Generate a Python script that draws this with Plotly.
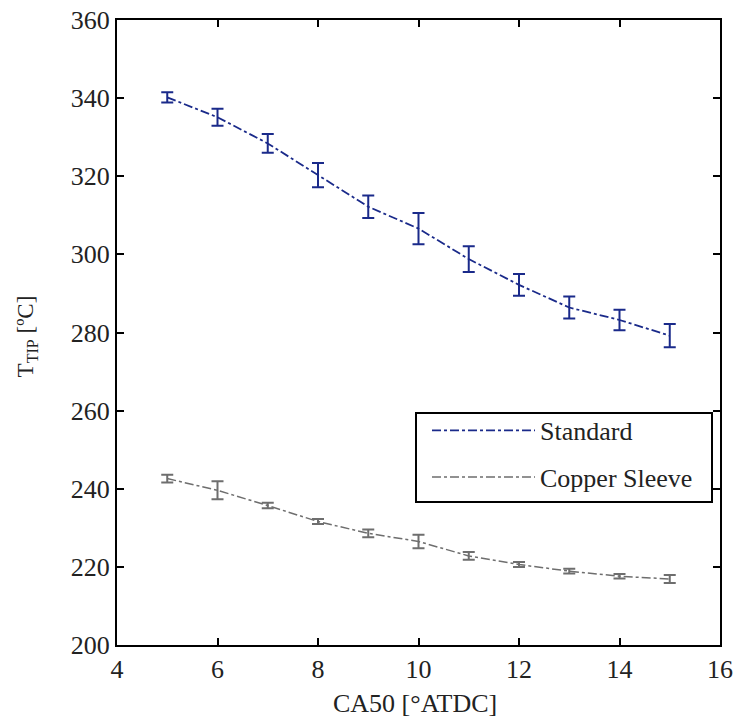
import plotly.graph_objects as go

ca50 = [5, 6, 7, 8, 9, 10, 11, 12, 13, 14, 15]
standard = [340.2, 335.1, 328.4, 320.3, 312.2, 306.6, 298.8, 292.2, 286.4, 283.2, 279.2]
standard_err = [1.3, 2.2, 2.4, 3.1, 2.9, 4.0, 3.3, 2.8, 2.8, 2.6, 3.0]
copper = [242.6, 239.6, 235.7, 231.6, 228.6, 226.5, 222.8, 220.6, 218.9, 217.6, 216.9]
copper_err = [1.0, 2.3, 0.7, 0.65, 1.0, 1.7, 1.0, 0.65, 0.6, 0.6, 1.0]

font = "Liberation Serif, Times New Roman, serif"
txt = "#222"

fig = go.Figure()
fig.add_trace(go.Scatter(
    x=ca50, y=standard, mode="lines", name="Standard", legendgroup="a",
    line=dict(color="#1a2a8a", width=1.8, dash="dashdot"),
    error_y=dict(type="data", array=standard_err, visible=True,
                 color="#1a2a8a", thickness=2, width=6),
))
fig.add_trace(go.Scatter(
    x=ca50, y=copper, mode="lines", name="Copper Sleeve", legendgroup="b",
    line=dict(color="#6e6e6e", width=1.5, dash="dashdot"),
    error_y=dict(type="data", array=copper_err, visible=True,
                 color="#6e6e6e", thickness=2, width=6),
))

axis_common = dict(
    showline=True, linecolor="black", linewidth=2, mirror="ticks",
    ticks="inside", ticklen=7, tickwidth=2, tickcolor="black",
    showgrid=False, zeroline=False, automargin=False,
    ticklabeloverflow="allow",
    tickfont=dict(family=font, size=26, color=txt),
)

fig.update_layout(
    width=736, height=720,
    margin=dict(l=117, r=16, t=20, b=75, autoexpand=False),
    plot_bgcolor="white", paper_bgcolor="white",
    font=dict(family=font, size=25, color=txt),
    xaxis=dict(range=[4, 16], dtick=2, **axis_common),
    yaxis=dict(range=[200, 360], dtick=20, **axis_common),
    legend=dict(x=(427 - 117) / 603, y=0.381, xanchor="left", yanchor="top",
                bgcolor="rgba(0,0,0,0)", borderwidth=0,
                font=dict(family=font, size=26, color=txt),
                itemwidth=103, traceorder="grouped", tracegroupgap=10),
    showlegend=True,
    shapes=[dict(type="rect", xref="paper", yref="paper",
                 x0=(416 - 117) / 603, x1=(712 - 117) / 603,
                 y0=(645 - 502) / 625, y1=(645 - 413) / 625,
                 line=dict(color="black", width=2), fillcolor="rgba(0,0,0,0)",
                 layer="above")],
    annotations=[
        dict(text="CA50 [°ATDC]", xref="paper", yref="paper", x=0.494, y=-0.093,
             showarrow=False, xanchor="center", yanchor="middle",
             font=dict(family=font, size=26, color=txt)),
        dict(text="T<sub>TIP</sub> [ºC]", xref="paper", yref="paper", x=-0.149, y=0.494,
             showarrow=False, xanchor="center", yanchor="middle", textangle=-90,
             font=dict(family=font, size=23, color=txt)),
    ],
)

fig.write_html("out.html", config={"displayModeBar": False},
               post_script="document.body.style.margin='0';")
